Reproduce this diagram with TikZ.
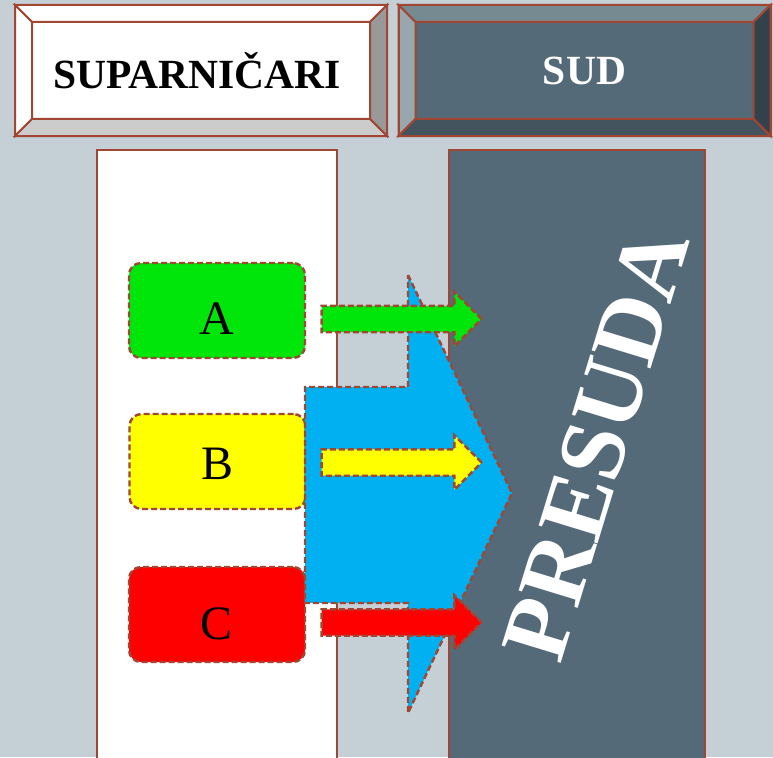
\documentclass[tikz,border=0pt]{standalone}
\usepackage{fontspec}
\setmainfont{Liberation Serif}
\usetikzlibrary{shapes.arrows, positioning, calc}
\definecolor{backdrop}{RGB}{197, 208, 214}
\definecolor{edge}{RGB}{160, 70, 50}
\definecolor{slate}{RGB}{84, 106, 120}
\definecolor{flowblue}{RGB}{0, 176, 240}
\definecolor{partyA}{RGB}{0, 230, 10}
\definecolor{partyB}{RGB}{255, 255, 0}
\definecolor{partyC}{RGB}{255, 0, 0}
\definecolor{slatetop}{RGB}{118, 138, 146}
\definecolor{slateleft}{RGB}{152, 166, 174}
\definecolor{slateright}{RGB}{51, 65, 74}
\definecolor{slatebottom}{RGB}{67, 84, 94}

% four bevel faces round a title node: #1 node, #2 top, #3 left, #4 right, #5 bottom
\newcommand{\bevelframe}[5]{%
    \coordinate (#1-a) at ($(#1.north west)+(17,17)$);
    \coordinate (#1-b) at ($(#1.north east)+(-17,17)$);
    \coordinate (#1-c) at ($(#1.south east)+(-17,-17)$);
    \coordinate (#1-d) at ($(#1.south west)+(17,-17)$);
    \filldraw [bevel, fill=#2] (#1.north west) -- (#1.north east) -- (#1-b) -- (#1-a) -- cycle;
    \filldraw [bevel, fill=#3] (#1.north west) -- (#1-a) -- (#1-d) -- (#1.south west) -- cycle;
    \filldraw [bevel, fill=#4] (#1.north east) -- (#1.south east) -- (#1-c) -- (#1-b) -- cycle;
    \filldraw [bevel, fill=#5] (#1.south west) -- (#1-d) -- (#1-c) -- (#1.south east) -- cycle;
    \draw [bevel] (#1.north west) rectangle (#1.south east);
}
% letter set on a baseline #1 below the box centre
\newcommand{\partyletter}[2]{\smash{\raisebox{-#1}{#2}}}

\begin{document}
\begin{tikzpicture}[
    x=1pt, y=-1pt,
    title/.style={rectangle, draw=edge, line width=2pt, minimum width=370pt, minimum height=129pt, inner sep=0pt, align=center, font=\fontsize{41.5}{44}\selectfont\bfseries},
    bevel/.style={draw=edge, line width=2pt, line join=miter},
    column/.style={draw=edge, line width=1.6pt},
    dashedge/.style={draw=edge, dash pattern=on 6pt off 3pt, line width=2.4pt},
    party/.style={rectangle, rounded corners=12pt, dashedge, minimum width=176pt, minimum height=95pt, inner sep=0pt, font=\fontsize{48}{50}\selectfont},
    flow/.style={single arrow, dashedge, single arrow head extend=14pt, single arrow head indent=0pt, minimum height=160pt, minimum width=52pt, inner xsep=0pt, inner ysep=12pt}
]
    \clip (0,0) rectangle (773,757);
    \fill [backdrop] (0,0) rectangle (773,757);

    \node (parties) [title, fill=white] at (201,70.5) {\hspace*{-8pt}SUPARNIČARI};
    \bevelframe{parties}{white}{white}{black!40}{black!20}
    \node (court) [title, fill=slate, text=white] at (584.5,70.5) {SUD};
    \bevelframe{court}{slatetop}{slateleft}{slateright}{slatebottom}

    \filldraw [column, fill=white] (97,150) rectangle (337,770);
    \filldraw [column, fill=slate] (449,150) rectangle (705,770);

    \node (partyA) [party, fill=partyA] at (217,310.5) {\partyletter{24pt}{A}};
    \node (partyB) [party, fill=partyB] at (217.5,461.5) {\partyletter{18pt}{B}};
    \node (partyC) [party, fill=partyC] at (217,614.5) {\partyletter{25pt}{C}};

    \filldraw [dashedge, fill=flowblue, line join=miter]
        (408,275) -- (512,493) -- (408,713) -- (408,603) -- (305,603) -- (305,387) -- (408,387) -- cycle;

    \node (flowA) [flow, fill=partyA] at (395,319) {};
    \node (flowB) [flow, fill=partyB] at (395,462.5) {};
    \node (flowC) [flow, fill=partyC] at (395,622.5) {};

    \node (verdict) [rotate=73, text=white, font=\fontsize{94}{96}\selectfont\bfseries] at (596,444) {PRESUDA};
\end{tikzpicture}
\end{document}
